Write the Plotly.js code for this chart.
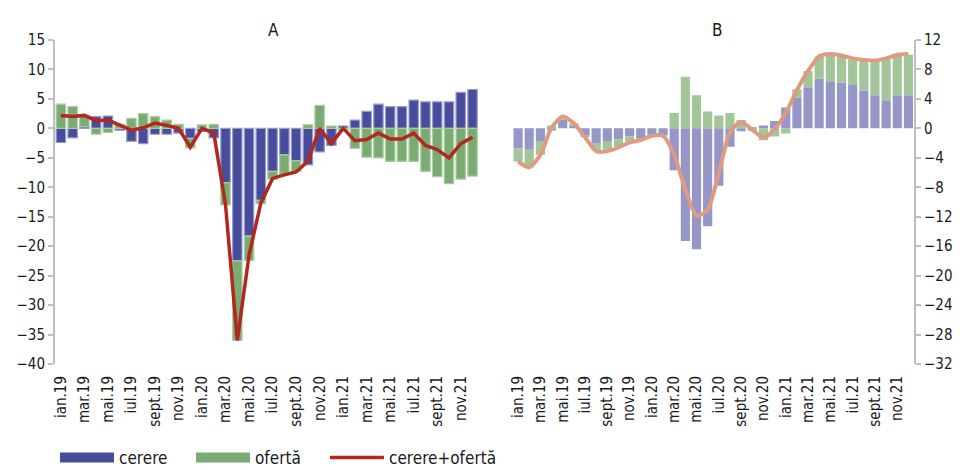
<!DOCTYPE html>
<html><head><meta charset="utf-8">
<script src="https://cdn.plot.ly/plotly-3.0.1.min.js"></script>
<style>html,body{margin:0;padding:0;background:#fff}#chart{width:970px;height:470px}</style>
</head><body><div id="chart"></div><script>
const categories = ['ian.19','feb.19','mar.19','apr.19','mai.19','iun.19','iul.19','aug.19','sept.19','oct.19','nov.19','dec.19',
  'ian.20','feb.20','mar.20','apr.20','mai.20','iun.20','iul.20','aug.20','sept.20','oct.20','nov.20','dec.20',
  'ian.21','feb.21','mar.21','apr.21','mai.21','iun.21','iul.21','aug.21','sept.21','oct.21','nov.21','dec.21'];
const tickLabels = ['ian.19','mar.19','mai.19','iul.19','sept.19','nov.19','ian.20','mar.20','mai.20','iul.20','sept.20','nov.20',
  'ian.21','mar.21','mai.21','iul.21','sept.21','nov.21'];
const seriesNames = ['cerere','ofertă','cerere+ofertă'];
const panelTitles = ['A','B'];

// Panel A
const cerereA = [-2.4,-1.6,0.3,2.0,2.1,-0.3,-2.2,-2.6,-1.0,-1.0,-0.8,-1.7,
  -0.5,-1.6,-9.2,-22.5,-18.3,-12.2,-7.3,-4.5,-5.5,-6.2,-4.0,-2.9,
  0.4,1.4,2.9,4.1,3.7,3.7,4.8,4.5,4.5,4.5,6.1,6.6];
const ofertaA = [4.1,3.7,1.9,-1.0,-0.7,0.7,1.7,2.5,2.0,1.4,0.7,-1.6,
  0.6,0.7,-3.8,-13.5,-4.1,-0.6,-1.3,-3.3,-1.8,0.6,3.9,0.4,
  -0.4,-3.4,-4.9,-5.0,-5.6,-5.6,-5.6,-7.3,-8.2,-9.4,-8.6,-8.1];
const totalA = [2.2,2.0,2.2,1.3,1.4,0.5,-0.3,0.1,0.9,0.5,0.0,-3.2,
  0.0,-0.8,-13.0,-36.0,-21.5,-12.7,-8.5,-7.9,-7.4,-5.6,0.0,-2.6,
  0.0,-2.1,-1.9,-0.8,-1.8,-1.8,-0.8,-2.9,-3.6,-5.0,-2.6,-1.5];

// Panel B
const cerereB = [-2.7,-2.9,-1.7,-0.3,1.2,0.4,-1.0,-2.1,-1.7,-1.5,-1.1,-1.3,
  -0.9,-0.9,-5.7,-15.3,-16.4,-13.3,-7.8,-2.5,-0.4,-0.3,0.4,1.0,
  2.85,4.2,5.6,6.75,6.4,6.2,5.9,5.1,4.5,3.7,4.5,4.5];
const ofertaB = [-1.8,-2.4,-1.9,0.4,0.3,0.3,-0.2,-0.9,-1.2,-1.0,-0.7,-0.3,
  -0.1,-0.1,2.1,7.0,4.5,2.3,1.75,2.1,1.15,0.2,-1.6,-1.1,
  -0.7,1.1,2.2,3.0,3.8,3.7,3.5,4.2,4.6,5.7,5.5,5.5];
const totalB = [-4.5,-5.3,-3.6,0.1,1.6,0.7,-1.2,-3.1,-3.1,-2.6,-1.9,-1.6,
  -1.0,-1.0,-3.6,-8.3,-11.9,-11.1,-6.1,-0.5,0.9,-0.2,-1.3,-0.1,
  2.1,5.2,7.8,9.8,10.1,9.9,9.5,9.3,9.2,9.5,10.0,10.1];

const colA = {cer:'#474c9b', cerLine:'#9a9ad0', of:'#7aab72', ofLine:'#a9cfa1', tot:'#b2281e'};
const colB = {cer:'#9696c8', of:'#a2c59a', tot:'#de9b82'};

const traces = [
  {type:'bar', x:categories, y:cerereA, xaxis:'x', yaxis:'y', name:seriesNames[0], showlegend:false, width:0.8,
   marker:{color:colA.cer, line:{color:colA.cerLine, width:1.2}}},
  {type:'bar', x:categories, y:ofertaA, xaxis:'x', yaxis:'y', name:seriesNames[1], showlegend:false, width:0.8,
   marker:{color:colA.of, line:{color:colA.ofLine, width:1.2}}},
  {type:'scatter', mode:'lines', x:categories, y:totalA, xaxis:'x', yaxis:'y', name:seriesNames[2], showlegend:false,
   line:{color:colA.tot, width:3.5}},
  {type:'bar', x:categories, y:cerereB, xaxis:'x2', yaxis:'y2', name:seriesNames[0], showlegend:false, width:0.82,
   marker:{color:colB.cer, line:{width:0}}},
  {type:'bar', x:categories, y:ofertaB, xaxis:'x2', yaxis:'y2', name:seriesNames[1], showlegend:false, width:0.82,
   marker:{color:colB.of, line:{width:0}}},
  {type:'scatter', mode:'lines', x:categories, y:totalB, xaxis:'x2', yaxis:'y2', name:seriesNames[2], showlegend:false,
   line:{color:colB.tot, width:4, shape:'spline', smoothing:0.6}},
  // legend entries
  {type:'scatter', mode:'lines', x:[null], y:[null], xaxis:'x', yaxis:'y', name:seriesNames[0], legend:'legend', line:{color:colA.cer, width:10}},
  {type:'scatter', mode:'lines', x:[null], y:[null], xaxis:'x', yaxis:'y', name:seriesNames[1], legend:'legend', line:{color:colA.of, width:10}},
  {type:'scatter', mode:'lines', x:[null], y:[null], xaxis:'x', yaxis:'y', name:seriesNames[2], legend:'legend2', line:{color:colA.tot, width:3.5}}
];

const FONT = 'Liberation Sans Narrow, DejaVu Sans Condensed, Arial Narrow, sans-serif';
const grey = '#bfbfbf';
const xBase = {type:'category', categoryorder:'array', categoryarray:categories, range:[-0.5,35.5],
  tickmode:'array', tickvals:tickLabels, ticktext:tickLabels, tickangle:-90, ticks:'', showline:false,
  showgrid:false, zeroline:false, ticklabelstandoff:8, automargin:false, tickfont:{family:FONT, size:15, color:'#1a1a1a'}};
const zeroAx = {type:'linear', range:[-0.5,35.5], anchor:'free', position:40/55, tickmode:'linear', tick0:-0.5, dtick:2,
  ticks:'outside', ticklen:4, tickcolor:grey, tickwidth:1.5, showline:true, linecolor:grey, linewidth:2,
  showticklabels:false, showgrid:false, zeroline:false, layer:'above traces'};
const legendBase = {orientation:'h', xanchor:'left', yref:'container', y:0.064, yanchor:'top', itemwidth:54,
  font:{family:FONT, size:17, color:'#1a1a1a'}, bgcolor:'rgba(0,0,0,0)'};

const layout = {
  width:970, height:470, paper_bgcolor:'#fff', plot_bgcolor:'rgba(0,0,0,0)',
  margin:{l:55, r:56, t:40, b:106, autoexpand:false},
  barmode:'relative',
  font:{family:FONT, size:15, color:'#1a1a1a'},
  xaxis: Object.assign({}, xBase, {domain:[0,0.4929], anchor:'y'}),
  xaxis2: Object.assign({}, xBase, {domain:[0.5326,1], anchor:'y2'}),
  xaxis3: Object.assign({}, zeroAx, {overlaying:'x'}),
  xaxis4: Object.assign({}, zeroAx, {overlaying:'x2'}),
  yaxis: {domain:[0,1], anchor:'x', range:[-40,15], dtick:5, tick0:0, showline:true, linecolor:grey, linewidth:2,
    ticks:'outside', ticklen:5, tickcolor:grey, tickwidth:2, showgrid:false, zeroline:false, automargin:false,
    tickfont:{family:FONT, size:15, color:'#1a1a1a'}},
  yaxis2: {domain:[0,1], anchor:'x2', side:'right', range:[-32,12], dtick:4, tick0:0, showline:true, linecolor:grey, linewidth:2,
    ticks:'outside', ticklen:5, tickcolor:grey, tickwidth:2, showgrid:false, zeroline:false, automargin:false,
    tickfont:{family:FONT, size:15, color:'#1a1a1a'}},
  annotations:[
    {text:panelTitles[0], xref:'paper', yref:'paper', x:0.2456, y:1.069, showarrow:false, font:{family:FONT, size:17, color:'#1a1a1a'}},
    {text:panelTitles[1], xref:'paper', yref:'paper', x:0.78, y:1.069, showarrow:false, font:{family:FONT, size:17, color:'#1a1a1a'}}
  ],
  legend: Object.assign({}, legendBase, {x:0, entrywidth:67, entrywidthmode:'pixels'}),
  legend2: Object.assign({}, legendBase, {x:0.3143}),
  showlegend:true
};

Plotly.newPlot('chart', traces, layout, {displayModeBar:false, staticPlot:true});
</script></body></html>
